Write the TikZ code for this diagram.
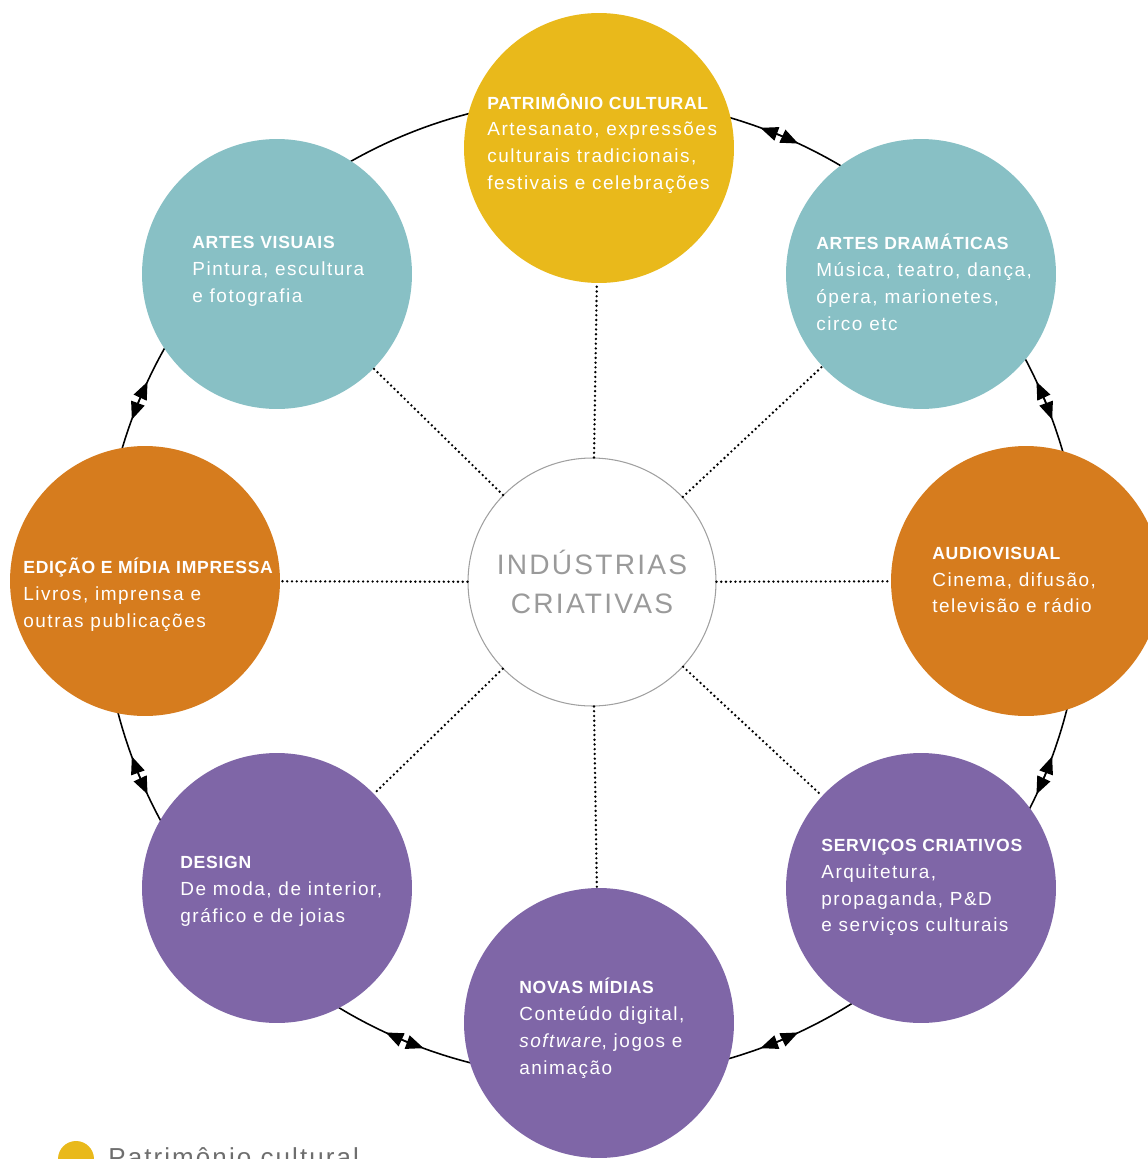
\documentclass[tikz,border=0pt]{standalone}
\usepackage{fontspec}
\setmainfont{Liberation Sans}[LetterSpace=8]
\usetikzlibrary{arrows.meta}
\definecolor{heritage}{HTML}{E9B91B}
\definecolor{arts}{HTML}{88C0C5}
\definecolor{media}{HTML}{D67C1E}
\definecolor{creation}{HTML}{7F66A7}
\definecolor{hubline}{HTML}{A0A0A0}
\definecolor{hubtext}{HTML}{9A9A9A}
\definecolor{legtext}{HTML}{6E6E6E}
\newcommand{\hd}[1]{{\fontsize{10}{15.3}\selectfont\bfseries\addfontfeatures{LetterSpace=4}#1}}
\tikzset{
  sector/.style={circle, inner sep=0pt, minimum size=5.4cm},
  blurb/.style={text=white, align=left, anchor=west, inner sep=0pt, font=\fontsize{10.8}{15.3}\selectfont},
  spoke/.style={line width=1.5pt, line cap=round, dash pattern=on 0pt off 2.7pt},
  ring/.style={line width=0.9pt},
  twoway/.style={line width=0.9pt, {Triangle[length=10pt,width=8pt]}-{Triangle[length=10pt,width=8pt]}}
}
\begin{document}
\begin{tikzpicture}[x=0.02cm, y=-0.02cm]
\useasboundingbox (0,0) rectangle (1148,1159);
\clip (0,0) rectangle (1148,1159);
\draw[ring] (592,588) circle[radius=490];
\foreach \a in {-67.5,-22.5,22.5,67.5,112.5,157.5,202.5}
  \draw[twoway] ([shift={(\a-2.4:490)}]592,588) arc[start angle=\a-2.4, end angle=\a+2.4, radius=490];
\node[circle, draw=hubline, line width=0.6pt, minimum size=4.96cm, inner sep=0pt, text=hubtext, align=center, font=\fontsize{16}{22}\selectfont] (hub) at (592,582) {INDÚSTRIAS\\CRIATIVAS};
\node[sector, fill=heritage] (pat) at (599,148) {};
\node[sector, fill=arts] (avis) at (277,274) {};
\node[sector, fill=arts] (adram) at (921,274) {};
\node[sector, fill=media] (edic) at (145,581) {};
\node[sector, fill=media] (audio) at (1026,581) {};
\node[sector, fill=creation] (desg) at (277,888) {};
\node[sector, fill=creation] (serv) at (921,888) {};
\node[sector, fill=creation] (nmid) at (599,1023) {};
\foreach \s in {pat,avis,adram,edic,audio,desg,serv,nmid}
  \draw[spoke] (hub) -- (\s);
\node[blurb] (patt) at (487,143.5) {\hd{PATRIMÔNIO CULTURAL}\\Artesanato, expressões\\culturais tradicionais,\\festivais e celebrações};
\node[blurb] (avist) at (192,271.5) {\hd{ARTES VISUAIS}\\Pintura, escultura\\e fotografia};
\node[blurb] (adramt) at (816,282) {\hd{ARTES DRAMÁTICAS}\\Música, teatro, dança,\\ópera, marionetes,\\circo etc};
\node[blurb] (edict) at (23,595) {\hd{EDIÇÃO E MÍDIA IMPRESSA}\\Livros, imprensa e\\outras publicações};
\node[blurb] (audiot) at (932,580) {\hd{AUDIOVISUAL}\\Cinema, difusão,\\televisão e rádio};
\node[blurb] (desgt) at (180,891) {\hd{DESIGN}\\De moda, de interior,\\gráfico e de joias};
\node[blurb] (servt) at (821,887.5) {\hd{SERVIÇOS CRIATIVOS}\\Arquitetura,\\propaganda, P\&D\\e serviços culturais};
\node[blurb] (nmidt) at (519,1028) {\hd{NOVAS MÍDIAS}\\Conteúdo digital,\\\textit{software}, jogos e\\animação};
\node[circle, fill=heritage, inner sep=0pt, minimum size=0.72cm] (legdot) at (76,1159) {};
\node[anchor=base west, inner sep=0pt, text=legtext, font=\fontsize{14.8}{17}\selectfont] (legtxt) at (108,1166) {Patrimônio cultural};
\end{tikzpicture}
\end{document}
